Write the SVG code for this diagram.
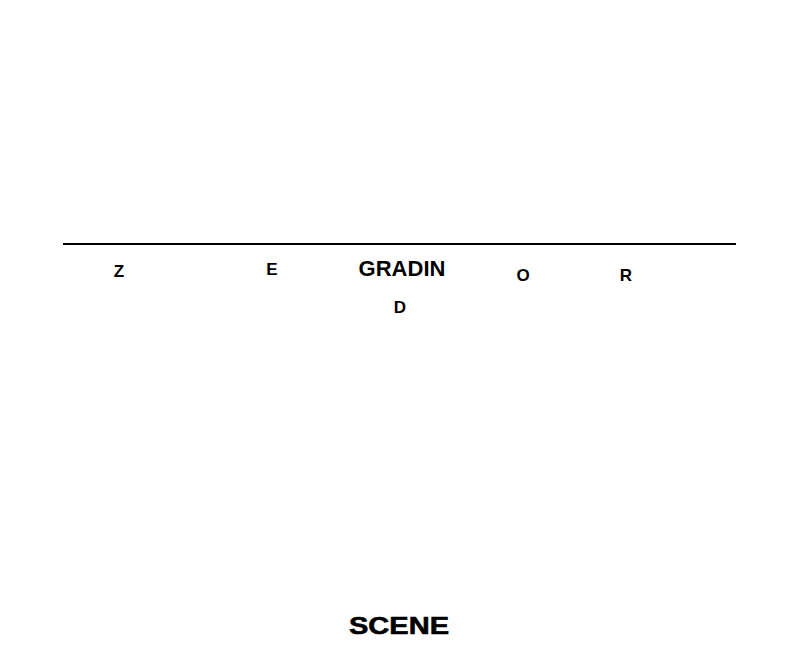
<svg xmlns="http://www.w3.org/2000/svg" width="800" height="651" viewBox="0 0 800 651">
<style>
text{font-family:"Liberation Sans",Arial,sans-serif;font-weight:bold;fill:#000;text-anchor:middle}
.s{font-size:17px}
</style>
<rect width="800" height="651" fill="#fff"/>
<g id="stage-line"><line x1="63" y1="244" x2="736" y2="244" stroke="#000" stroke-width="2"/></g>
<g id="labels">
<text class="s" x="119" y="277">Z</text>
<text class="s" x="272" y="275">E</text>
<text x="402" y="276" font-size="22">GRADIN</text>
<text class="s" x="400" y="313">D</text>
<text class="s" x="523" y="281">O</text>
<text class="s" x="626" y="281">R</text>
<text x="399" y="634" font-size="24" textLength="100" lengthAdjust="spacingAndGlyphs" stroke="#000" stroke-width="0.6">SCENE</text>
</g>
</svg>
